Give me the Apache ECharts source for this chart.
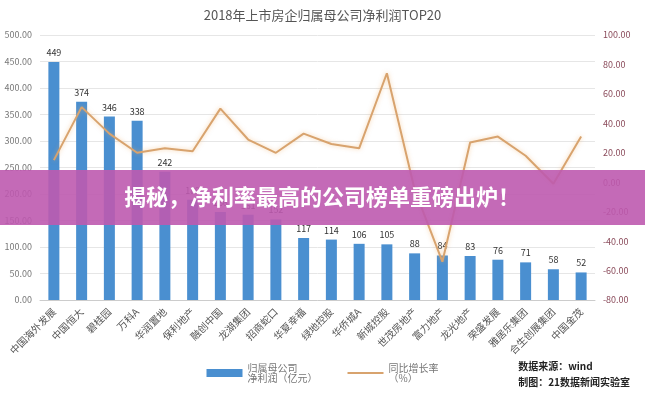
<!DOCTYPE html><html><head><meta charset="utf-8"><script src="https://cdn.jsdelivr.net/npm/echarts@6/dist/echarts.min.js"></script></head><body style="margin:0"><div id="c" style="width:645px;height:400px"></div><script>
const categories=['中国海外发展','中国恒大','碧桂园','万科A','华润置地','保利地产','融创中国','龙湖集团','招商蛇口','华夏幸福','绿地控股','华侨城A','新城控股','世茂房地产','富力地产','龙光地产','荣盛发展','雅居乐集团','合生创展集团','中国金茂'];
const profit=[449,374,346,338,242,189,166,161,152,117,114,106,105,88,84,83,76,71,58,52];
const growth=[15,51,33,20,23,21,50,29,20,33,26,23,74,-5,-54,27,31,18,-1,31];
const font='"Noto Sans CJK SC"';
const ch=echarts.init(document.getElementById('c'));
ch.setOption({
 textStyle:{fontFamily:font},
 title:{text:'2018年上市房企归属母公司净利润TOP20',left:'center',top:4,textStyle:{fontSize:13,fontWeight:'normal',color:'#555'}},
 grid:{left:40,right:50,top:35,bottom:100},
 legend:{bottom:12,left:'center',itemWidth:36,itemHeight:8,itemGap:30,textStyle:{fontSize:10,color:'#777'},data:[{name:'归属母公司\n净利润（亿元）',icon:'rect'},{name:'同比增长率\n（%）',icon:'path://M0,3L36,3L36,5L0,5Z'}]},
 xAxis:{type:'category',data:categories,axisLine:{lineStyle:{color:'#ccc'}},axisTick:{show:false},axisLabel:{rotate:45,interval:0,fontSize:10,color:'#555',margin:10}},
 yAxis:[{type:'value',min:0,max:500,interval:50,axisLabel:{formatter:v=>v.toFixed(2),fontSize:9,color:'#777'},splitLine:{lineStyle:{color:'#e6e6e6'}}},
  {type:'value',min:-80,max:100,interval:20,axisLabel:{formatter:v=>v.toFixed(2),fontSize:9,color:'#8a4a5a'},splitLine:{show:false}}],
 series:[{name:'归属母公司\n净利润（亿元）',type:'bar',data:profit,barWidth:11,itemStyle:{color:'#4a8fd0'},label:{show:true,position:'top',fontSize:9,color:'#333'}},
  {name:'同比增长率\n（%）',type:'line',yAxisIndex:1,data:growth,symbol:'none',lineStyle:{color:'#d8a36e',width:2,shadowColor:'rgba(240,170,90,0.5)',shadowBlur:4},itemStyle:{color:'#d8a36e'}}],
 graphic:[{type:'rect',shape:{x:0,y:170,width:645,height:55},style:{fill:'rgba(190,90,175,0.9)'},z:100},
  {type:'text',x:322,y:197,style:{text:'揭秘，净利率最高的公司榜单重磅出炉！',fill:'#fff',font:'bold 22px "Noto Sans CJK SC"',textAlign:'center',textVerticalAlign:'middle'},z:101},
  {type:'text',right:15,bottom:10,style:{text:'数据来源：wind\n制图：21数据新闻实验室',fill:'#222',font:'bold 10px "Noto Sans CJK SC"',lineHeight:16},z:101}]
});
</script></body></html>
